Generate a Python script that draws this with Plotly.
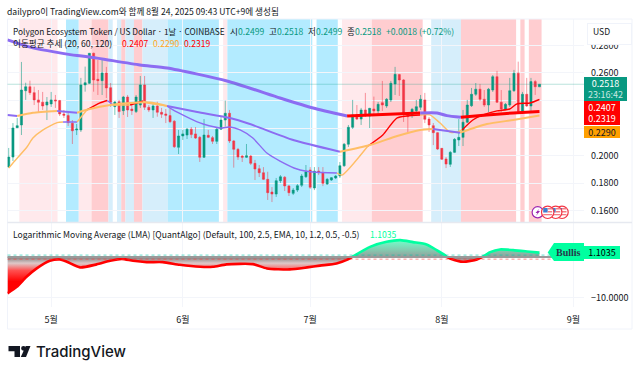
import pandas as pd
import plotly.graph_objects as go

W, H = 640, 373
base = pd.Timestamp("2025-04-21")

open_ = [.1917,.1989,.2202,.2222,.2471,.2500,.2457,.2404,.2387,.2367,.2375,.2404,.2399,.2302,.2290,.2234,.2186,.2186,.2513,.2525,
 .2743,.2554,.2544,.2600,.2493,.2355,.2391,.2326,.2425,.2338,.2319,.2367,.2513,.2351,.2331,.2360,.2314,.2302,.2290,.2249,
 .2060,.2142,.2149,.2191,.2157,.2132,.1987,.2147,.2130,.2103,.2191,.2258,.2307,.2106,.2045,.1996,.1987,.1996,.1943,.1904,
 .1875,.1827,.1735,.1720,.1817,.1842,.1779,.1725,.1749,.1784,.1846,.1895,.1764,.1887,.1875,.1793,.1822,.1837,.1851,.1926,
 .2082,.2205,.2295,.2265,.2331,.2287,.2338,.2324,.2384,.2360,.2404,.2520,.2588,.2549,.2312,.2295,.2326,.2351,.2404,.2265,
 .2217,.2166,.2052,.1975,.1936,.2023,.2113,.2132,.2242,.2362,.2445,.2482,.2409,.2367,.2476,.2573,.2387,.2336,.2367,.2471,
 .2598,.2324,.2445,.2360,.2537,.2499]
high = [.2055,.2236,.2273,.2680,.2529,.2544,.2500,.2476,.2462,.2425,.2462,.2440,.2404,.2331,.2309,.2258,.2229,.2564,.2646,.2745,
 .2748,.2694,.2694,.2644,.2527,.2396,.2404,.2433,.2440,.2382,.2440,.2578,.2578,.2367,.2382,.2391,.2346,.2338,.2346,.2258,
 .2186,.2186,.2200,.2207,.2207,.2142,.2265,.2186,.2142,.2207,.2287,.2399,.2331,.2113,.2055,.2004,.2084,.2004,.1968,.1931,
 .1916,.1882,.1771,.1837,.1858,.1851,.1786,.1764,.1793,.1866,.1931,.1916,.1916,.1916,.1916,.1837,.1844,.1858,.1953,.2091,
 .2222,.2404,.2367,.2346,.2455,.2346,.2428,.2389,.2542,.2418,.2542,.2644,.2593,.2556,.2316,.2346,.2404,.2440,.2455,.2280,
 .2236,.2171,.2055,.1989,.2033,.2127,.2265,.2331,.2404,.2491,.2527,.2520,.2476,.2491,.2585,.2615,.2476,.2382,.2564,.2622,
 .2682,.2462,.2564,.2564,.2549,.2518]
low = [.1909,.1960,.2200,.2149,.2404,.2440,.2367,.2309,.2331,.2258,.2353,.2346,.2287,.2273,.2215,.2084,.2149,.2171,.2464,.2520,
 .2464,.2440,.2440,.2418,.2353,.2295,.2273,.2295,.2280,.2295,.2309,.2346,.2331,.2316,.2273,.2282,.2273,.2236,.2236,.2055,
 .2011,.2113,.2120,.2127,.2120,.1953,.1982,.2127,.2084,.2084,.2186,.2210,.2091,.1912,.1968,.1953,.1982,.1931,.1822,.1844,
 .1822,.1677,.1662,.1699,.1800,.1742,.1706,.1713,.1735,.1771,.1837,.1757,.1749,.1858,.1778,.1786,.1815,.1829,.1837,.1917,
 .2062,.2193,.2258,.2222,.2280,.2200,.2290,.2295,.2324,.2346,.2389,.2440,.2433,.2244,.2171,.2273,.2316,.2331,.2236,.2171,
 .2076,.2040,.1968,.1909,.1917,.2018,.2069,.2069,.2236,.2353,.2433,.2396,.2353,.2316,.2462,.2382,.2316,.2331,.2353,.2462,
 .2316,.2316,.2353,.2312,.2440,.2499]
close = [.1989,.2200,.2217,.2476,.2500,.2457,.2404,.2387,.2360,.2389,.2404,.2397,.2302,.2292,.2239,.2180,.2193,.2513,.2529,.2743,
 .2549,.2544,.2600,.2491,.2387,.2389,.2319,.2425,.2331,.2326,.2425,.2513,.2351,.2331,.2360,.2314,.2300,.2292,.2246,.2064,
 .2142,.2157,.2191,.2152,.2127,.1987,.2149,.2132,.2103,.2191,.2258,.2307,.2106,.2045,.1989,.1987,.1999,.1943,.1902,.1875,
 .1827,.1730,.1720,.1817,.1846,.1779,.1730,.1749,.1781,.1851,.1882,.1769,.1887,.1875,.1798,.1827,.1839,.1851,.1926,.2082,
 .2205,.2295,.2265,.2331,.2290,.2343,.2324,.2372,.2367,.2409,.2525,.2590,.2549,.2307,.2282,.2336,.2355,.2409,.2263,.2222,
 .2166,.2047,.1973,.1938,.2023,.2118,.2132,.2242,.2367,.2445,.2482,.2409,.2367,.2482,.2573,.2387,.2338,.2372,.2471,.2598,
 .2319,.2445,.2360,.2537,.2500,.2518]

ma120_idx = [-.3,5.7,16.1,19.1,30.9,37.3,51.4,63.9,71.7,79.7,85.1,96.9,100.9,103.2,106.5,112.6,118.8,125]
ma120_val = [.2840,.2782,.2726,.2716,.2658,.2636,.2542,.2418,.2345,.2287,.2295,.2309,.2309,.2290,.2278,.2295,.2309,.2319]
ma120_state = list("ppppppppprrppprrrr")

ma60_idx = [-.3,2,5.7,11.4,16.1,19.1,23.9,28.6,33.3,37.3,44.4,52.1,56.8,67,78,85.1,91.5,96.9,99.9,106.3,112.6,118.8,125]
ma60_val = [.2295,.2287,.2311,.2324,.2311,.2338,.2367,.2382,.2385,.2360,.2316,.2273,.2229,.2113,.2028,.2077,.2142,.2186,.2193,.2166,.2229,.2258,.2290]
ma60_state = list("poopooooo" + "ppppp" + "oooo" + "p" + "oooo")

ma20_idx = [0,1,4.3,5.7,8.1,11.4,12.8,16.1,18.4,21.5,23.2,24.6,28.6,31.7,32.6,37.3,38.7,44.4,45.8,49.8,52.1,54.5,57.5,60.8,63.9,67.9,71.7,
            77.3,78.5,84.6,88.1,91.5,96.9,99.2,101.6,103.9,105.6,106.8,109.3,111.7,115,118,119.7,122.8,125]
ma20_val = [.1909,.1946,.2062,.2127,.2186,.2239,.2244,.2244,.2331,.2382,.2400,.2367,.2367,.2396,.2382,.2360,.2331,.2244,.2229,.2200,.2207,.2186,.2127,.2018,.1960,.1902,.1880,
            .1873,.1858,.2069,.2149,.2273,.2295,.2295,.2236,.2171,.2171,.2186,.2258,.2295,.2324,.2338,.2375,.2382,.2407]
ma20_state = list("oooooopo" + "rrpo" + "roo" + "pppppppppppp" + "oo" + "rrr" + "ooooo" + "rrrrrrrr")

lma_idx = [[-.3,1.9,4.2,6.6,9.7,12.1,13.7,16.8,20.7,23.9,26.6,29.3,32.5,36.3,40.3,45.1,48.1,51.3,57.5,60.8,66.2,70.3,73.3,77.2,79.9,80.8],
           [80.8,85.1,89,92.2,95.2,98.4,100.8,102.7,103.2],
           [103.2,103.9,107,110.3,111.5],
           [111.5,113.4,115.7,118.8,122.1,125]]
lma_val = [[-8.92,-7.30,-4.84,-2.78,-.91,-.57,-1.15,-2.53,-1.79,-.91,-.42,-.91,-1.23,-1.23,-1.89,-2.38,-2.38,-1.79,-1.72,-2.78,-3.02,-2.53,-2.09,-1.55,-.57,0],
           [0,2.53,3.76,4.18,3.69,3.12,1.72,.49,0],
           [0,-.32,-1.15,-.57,0],
           [0,1.23,1.89,1.72,1.40,1.1035]]

band_start = [2.5,13.5,16.5,19.5,23.5,25.5,26.5,27.5,29.5,31.5,37.5,50.5,51.5,72.5,78.5,85.5,99.5,106.5,120.5,122.5]
band_end   = [11.5,16.5,19.5,23.5,24.5,26.5,27.5,29.5,31.5,37.5,49.5,51.5,71.5,77.5,85.5,97.5,106.5,119.5,121.5,125.5]
band_kind  = ["lp","c","lp","dp","lb","lb","dp","lb","dp","lb","c","lp","c","c","lp","dp","lb","dp","dp","dp"]
band_color = {"lp":"#FFE9EC","dp":"#FFCDD0","lb":"#D6EEFB","c":"#B3EBFF"}

price_ticks = [.16,.18,.20,.22,.24,.26,.28]
price_labels = ["0.1600","0.1800","0.2000","","","0.2600","0.2800"]
month_ticks = ["2025-05-01","2025-06-01","2025-07-01","2025-08-01","2025-09-01"]
month_labels = ["5월","6월","7월","8월","9월"]

def d(idx):
    return base + pd.Timedelta(days=idx)
def dl(lst):
    return [d(v) for v in lst]
def px(x):
    return x / W
def py(y):
    return 1 - y / H

FONT = "Noto Sans CJK KR, Roboto, sans-serif"
TXT = "#131722"
GREEN = "#089981"
RED = "#F23645"
LMA_G = "#00FFA0"
ma_color = {"p":"#8C6CF2","o":"#FFBE66","r":"#FF0000"}

fig = go.Figure()
dates = [d(i) for i in range(len(close))]

fig.add_trace(go.Candlestick(
    x=dates, open=open_, high=high, low=low, close=close, xaxis="x", yaxis="y",
    increasing=dict(line=dict(color="rgba(8,153,129,0.55)", width=1), fillcolor=GREEN),
    decreasing=dict(line=dict(color="rgba(242,54,69,0.5)", width=1), fillcolor=RED),
    whiskerwidth=0, showlegend=False, hoverinfo="skip"))

def add_ma(idx, val, state, width):
    start = 0
    for k in range(1, len(idx)):
        if k == len(idx) - 1 or state[k] != state[start]:
            fig.add_trace(go.Scatter(x=dl(idx[start:k+1]), y=val[start:k+1], mode="lines", xaxis="x", yaxis="y",
                                     line=dict(color=ma_color[state[start]], width=width, shape="spline", smoothing=.6),
                                     showlegend=False, hoverinfo="skip"))
            start = k

add_ma(ma20_idx, ma20_val, ma20_state, 1.4)
add_ma(ma60_idx, ma60_val, ma60_state, 2)
add_ma(ma120_idx, ma120_val, ma120_state, 3)

for xs, ys in zip(lma_idx, lma_val):
    pos = max(ys) > 0
    grad = (dict(type="vertical", start=4.3, stop=0,
                 colorscale=[[0,"rgba(0,255,160,.55)"],[1,"rgba(120,120,120,.75)"]]) if pos else
            dict(type="vertical", start=0, stop=-6,
                 colorscale=[[0,"rgba(110,110,110,.9)"],[.25,"rgba(215,190,190,.85)"],[.55,"rgba(255,70,70,.95)"],[1,"rgba(255,0,0,1)"]]))
    fig.add_trace(go.Scatter(x=dl(xs), y=ys, mode="lines", xaxis="x", yaxis="y2", fill="tozeroy", fillgradient=grad,
                             line=dict(color=LMA_G if pos else "#FF0000", width=2.6, shape="spline", smoothing=.6),
                             showlegend=False, hoverinfo="skip"))

shapes = []
for s, e, k in zip(band_start, band_end, band_kind):
    shapes.append(dict(type="rect", xref="x", yref="paper", x0=d(s), x1=d(e), y0=py(222), y1=py(19),
                       fillcolor=band_color[k], line_width=0, layer="below"))
shapes.append(dict(type="line", xref="paper", yref="y", x0=px(7.5), x1=px(584), y0=close[-1], y1=close[-1],
                   line=dict(color="rgba(8,153,129,.28)", width=1), layer="above"))
for v, c, dash, w in [(0,"#9A9A9A","solid",2),(.5,"rgba(0,200,170,.6)","dot",1),(-.5,"rgba(255,60,60,.6)","dot",1)]:
    shapes.append(dict(type="line", xref="paper", yref="y2", x0=px(7.5), x1=px(584), y0=v, y1=v,
                       line=dict(color=c, width=w, dash=dash), layer="above"))
shapes.append(dict(type="rect", xref="paper", yref="paper", x0=px(7.5), x1=px(632), y0=py(329), y1=py(19),
                   line=dict(color="#F0F3FA", width=1), layer="below"))
shapes.append(dict(type="line", xref="paper", yref="paper", x0=px(7.5), x1=px(632), y0=py(222.5), y1=py(222.5),
                   line=dict(color="#E6E9F0", width=1.5), layer="above"))
shapes.append(dict(type="path", xref="paper", yref="paper", layer="above", fillcolor=LMA_G, line_width=0,
                   path=f"M {px(584)} {py(243)} L {px(554)} {py(243)} L {px(547.7)} {py(252.5)} L {px(554)} {py(261)} L {px(584)} {py(261)} Z"))

def circ(cx, cy, r, **kw):
    return dict(type="circle", xref="paper", yref="paper", x0=px(cx-r), x1=px(cx+r), y0=py(cy+r), y1=py(cy-r), layer="above", **kw)
def rect(x0, y0, x1, y1, c):
    return dict(type="rect", xref="paper", yref="paper", x0=px(x0), x1=px(x1), y0=py(y1), y1=py(y0), fillcolor=c, line_width=0, layer="above")
shapes.append(circ(537.7, 212.3, 5.6, fillcolor="white", line=dict(color="#9C27B0", width=1.2)))
shapes.append(dict(type="path", xref="paper", yref="paper", layer="above", fillcolor="#9C27B0", line_width=0,
                   path=f"M {px(539.5)} {py(208.5)} L {px(535.5)} {py(213)} L {px(537.5)} {py(213)} L {px(536)} {py(216)} L {px(540)} {py(211)} L {px(538)} {py(211)} Z"))
for cx in [562, 555.7, 547.7]:
    shapes.append(circ(cx, 212.3, 6.2, fillcolor="white", line=dict(color=RED, width=1.2)))
    shapes.append(rect(cx-4.5, 208, cx, 212.5, "#3F7FD0"))
    shapes.append(rect(cx, 208, cx+4.5, 209.5, "#F47C85"))
    shapes.append(rect(cx, 211, cx+4.5, 212.5, "#F47C85"))
    shapes.append(rect(cx-4.5, 214, cx+4.5, 215.3, "#F47C85"))

shapes.append(dict(type="path", xref="paper", yref="paper", layer="above", fillcolor=TXT, line_width=0,
                   path=f"M {px(8.5)} {py(346)} L {px(20)} {py(346)} L {px(20)} {py(357)} L {px(14.5)} {py(357)} L {px(14.5)} {py(351.2)} L {px(8.5)} {py(351.2)} Z"))
shapes.append(circ(23.5, 348.3, 2.4, fillcolor=TXT, line_width=0))
shapes.append(dict(type="path", xref="paper", yref="paper", layer="above", fillcolor=TXT, line_width=0,
                   path=f"M {px(25.8)} {py(346)} L {px(30.5)} {py(346)} L {px(26)} {py(357)} L {px(20.8)} {py(357)} Z"))

ann = []
S = 8.6
def txt(x, y, text, color=TXT, size=S, family=FONT, anchor="left", weight=None):
    font = dict(color=color, size=size, family=family)
    if weight:
        font["weight"] = weight
    ann.append(dict(xref="paper", yref="paper", x=px(x), y=py(y), text=text, showarrow=False, xanchor=anchor, yanchor="middle",
                    font=font, borderpad=0, borderwidth=0))

ann.append(dict(xref="paper", yref="paper", x=px(587), y=py(23), xanchor="left", yanchor="top", text=" ", showarrow=False,
                width=43, height=19.5, bgcolor="white", bordercolor="#F0F3FA", borderwidth=1, borderpad=0))
txt(593, 31.5, "USD")
txt(7, 10.5, "dailypro이 TradingView.com와 함께 8월 24, 2025 09:43 UTC+9에 생성됨")
txt(13, 31, "Polygon Ecosystem Token / US Dollar · 1날 · COINBASE", size=8.3)
for x, label, val in [(229.5,"시","0.2499"),(268.5,"고","0.2518"),(308,"저","0.2499"),(347,"종","0.2518")]:
    txt(x, 31, label)
    txt(x+8, 31, val, GREEN)
txt(386, 31, "+0.0018 (+0.72%)", GREEN)
txt(13, 43.5, "이동평균 추세 (20, 60, 120)")
txt(121.5, 43.5, "0.2407", "#FF0000")
txt(152.5, 43.5, "0.2290", "#FFA726")
txt(184, 43.5, "0.2319", "#FF0000")
txt(13, 234, "Logarithmic Moving Average (LMA) [QuantAlgo] (Default, 100, 2.5, EMA, 10, 1.2, 0.5, -0.5)")
txt(370, 234, "1.1035", LMA_G)
txt(36, 351, "TradingView", size=15, family="Inter, Roboto, sans-serif", weight=500)

def tag(value, text, bg, fg, width, height, yaxis="y", yshift=0):
    ann.append(dict(xref="paper", yref=yaxis, x=px(584), y=value, yshift=yshift, text=text, showarrow=False, xanchor="left", yanchor="middle",
                    width=width, height=height, bgcolor=bg, font=dict(color=fg, size=9, family=FONT), align="center", borderpad=0, borderwidth=0))

tag(close[-1], "0.2518<br><span style='color:#C8E8E2'>23:16:42</span>", GREEN, "white", 43, 24, yshift=-4.5)
tag(ma20_val[-1], "0.2407", "#FF0000", "white", 36, 12, yshift=-7.6)
tag(ma120_val[-1], "0.2319", "#FF0000", "white", 36, 12.5, yshift=-7.2)
tag(ma60_val[-1], "0.2290", "#FFA000", TXT, 36, 12, yshift=-16)
tag(lma_val[-1][-1], "1.1035", LMA_G, "#000000", 36, 13, yaxis="y2")
ann.append(dict(xref="paper", yref="y2", x=px(583), y=lma_val[-1][-1], text="<b>Bullis</b>", showarrow=False, xanchor="right", yanchor="middle",
                font=dict(color="#26384A", size=10, family="Liberation Serif, serif"), borderpad=0, xshift=-1))

GRID = "#F3F5FA"
TICK = dict(size=9, color=TXT, family=FONT)
fig.update_layout(
    width=W, height=H, margin=dict(l=0, r=0, t=0, b=0), paper_bgcolor="white", plot_bgcolor="white",
    showlegend=False, shapes=shapes, annotations=ann,
    xaxis=dict(domain=[px(7.5), px(584)], anchor="y2", type="date", range=[d(-.283), d(135.49)], rangeslider=dict(visible=False),
               tickvals=month_ticks, ticktext=month_labels, tickfont=TICK, ticks="", ticklabelstandoff=6,
               showgrid=True, gridcolor=GRID, zeroline=False, showline=False),
    yaxis=dict(domain=[py(222), py(19)], range=[.1517, .2992], side="right", anchor="x", tickvals=price_ticks, ticktext=price_labels,
               tickfont=TICK, ticks="", ticklabelstandoff=6,
               showgrid=True, gridcolor=GRID, zeroline=False, showline=False),
    yaxis2=dict(domain=[py(307), py(223)], range=[-12.28, 8.4], side="right", anchor="x", tickvals=[-10, 0], ticktext=["−10.0000",""],
                tickfont=TICK, ticks="", ticklabelstandoff=6,
                showgrid=True, gridcolor=GRID, zeroline=False, showline=False),
)

fig.write_html("out.html", config={"displayModeBar": False},
               post_script="document.body.style.margin='0';document.body.style.overflow='hidden';")
